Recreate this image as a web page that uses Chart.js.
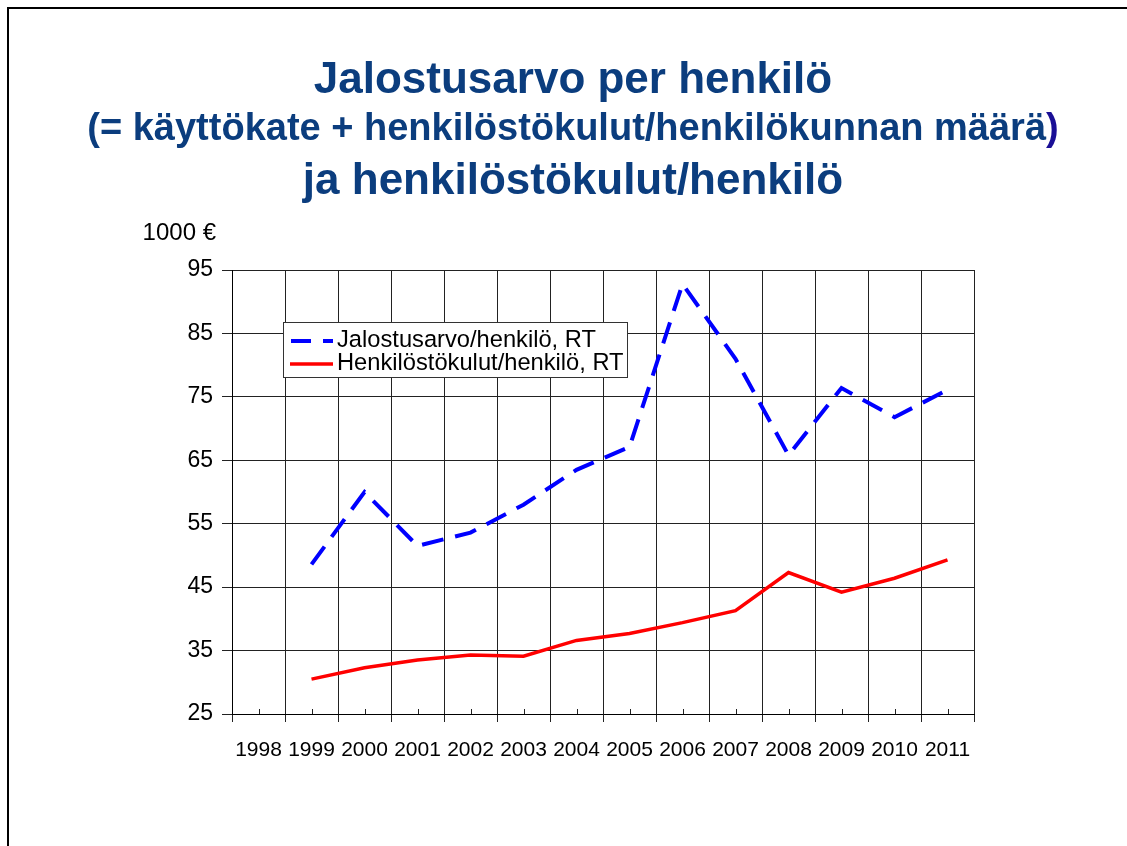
<!DOCTYPE html>
<html>
<head>
<meta charset="utf-8">
<script src="https://cdn.jsdelivr.net/npm/chart.js@4/dist/chart.umd.min.js"></script>
<style>
  html, body { margin: 0; padding: 0; background: #fff; }
  #page { position: relative; width: 1127px; height: 846px; overflow: hidden; background: #fff;
          font-family: "Liberation Sans", Arial, sans-serif; }
  #frame { position: absolute; left: 7px; top: 7px; width: 1200px; height: 900px;
           border-top: 2px solid #000; border-left: 2px solid #000; }
  .t { position: absolute; left: 0; width: 1146px; text-align: center; font-weight: bold;
       color: #0b3d7e; white-space: nowrap; line-height: 1; }
  #t1 { top: 56px; font-size: 44px; }
  #t2 { top: 108px; font-size: 38px; }
  #t3 { top: 157px; font-size: 44px; }
  #t2 .p { color: #1a0f96; }
  #unit { position: absolute; right: 911px; top: 220px; font-size: 24px; color: #000; line-height: 1; white-space: nowrap; }
  #chart { position: absolute; left: 0; top: 0; }
  #legend { position: absolute; left: 283px; top: 322px; width: 343px; height: 54px;
            border: 1px solid #333; background: #fff; z-index: 2; }
  .row { position: absolute; left: 0; height: 26px; white-space: nowrap; font-size: 23.7px; line-height: 26px; color: #000; }
  .row svg { position: absolute; left: 5px; top: 0; }
  .row span { position: absolute; left: 53px; top: 0; }
</style>
</head>
<body>
<div id="page">
  <canvas id="chart" width="1127" height="846"></canvas>
  <div id="frame"></div>
  <div class="t" id="t1">Jalostusarvo per henkilö</div>
  <div class="t" id="t2">(= käyttökate + henkilöstökulut/henkilökunnan määrä<span class="p">)</span></div>
  <div class="t" id="t3">ja henkilöstökulut/henkilö</div>
  <div id="unit">1000 €</div>
  <div id="legend">
    <div class="row" style="top:3px">
      <svg width="46" height="26"><line x1="2" y1="15" x2="44" y2="15" stroke="#0000ff" stroke-width="4" stroke-dasharray="20 12"/></svg>
      <span id="lg1"></span>
    </div>
    <div class="row" style="top:26px">
      <svg width="46" height="26"><line x1="1" y1="15" x2="44" y2="15" stroke="#ff0000" stroke-width="3.5"/></svg>
      <span id="lg2"></span>
    </div>
  </div>
</div>
<script>
const categories = ['1998','1999','2000','2001','2002','2003','2004','2005','2006','2007','2008','2009','2010','2011'];
const valueAddedPerPerson = [null, 48.6, 60.0, 51.5, 53.6, 58.0, 63.5, 67.1, 92.8, 81.0, 65.8, 76.4, 71.8, 76.1];
const personnelCostsPerPerson = [null, 30.5, 32.3, 33.5, 34.3, 34.1, 36.6, 37.7, 39.4, 41.3, 47.3, 44.2, 46.4, 49.3];
const seriesNames = ['Jalostusarvo/henkilö, RT', 'Henkilöstökulut/henkilö, RT'];
const yMin = 25, yMax = 95, yStep = 10;

document.getElementById('lg1').textContent = seriesNames[0];
document.getElementById('lg2').textContent = seriesNames[1];

const FONT = '"Liberation Sans", Arial, sans-serif';

const minorTicks = {
  id: 'minorTicks',
  beforeDatasetsDraw(chart) {
    const x = chart.scales.x, ctx = chart.ctx;
    const b = chart.chartArea.bottom;
    ctx.save();
    ctx.strokeStyle = '#222';
    ctx.lineWidth = 1;
    ctx.beginPath();
    categories.forEach((c, i) => {
      const px = Math.round(x.getPixelForValue(i)) + 0.5;
      ctx.moveTo(px, b - 5);
      ctx.lineTo(px, b);
    });
    ctx.stroke();
    ctx.restore();
  }
};

new Chart(document.getElementById('chart'), {
  type: 'line',
  data: {
    labels: categories,
    datasets: [
      {
        label: seriesNames[0],
        data: valueAddedPerPerson,
        borderColor: '#0000ff',
        borderWidth: 4,
        borderDash: [22, 12],
        borderCapStyle: 'butt',
        pointRadius: 0,
        tension: 0,
        fill: false
      },
      {
        label: seriesNames[1],
        data: personnelCostsPerPerson,
        borderColor: '#ff0000',
        borderWidth: 3.5,
        pointRadius: 0,
        tension: 0,
        fill: false
      }
    ]
  },
  options: {
    responsive: false,
    animation: false,
    devicePixelRatio: 1,
    layout: { padding: { top: 270, right: 153, bottom: 72, left: 0 } },
    plugins: {
      legend: { display: false },
      title: { display: false },
      tooltip: { enabled: false }
    },
    scales: {
      x: {
        type: 'category',
        offset: true,
        grid: { offset: true, color: '#222', lineWidth: 1, tickLength: 8, drawTicks: true },
        border: { display: true, color: '#000', width: 1 },
        ticks: { color: '#000', font: { family: FONT, size: 21 }, maxRotation: 0, minRotation: 0, autoSkip: false, padding: 16 },
        afterFit(s) { s.height = 60; }
      },
      y: {
        min: yMin,
        max: yMax,
        grid: { color: '#222', lineWidth: 1, tickLength: 10, drawTicks: true },
        border: { display: true, color: '#000', width: 1 },
        ticks: { stepSize: yStep, color: '#000', font: { family: FONT, size: 23 }, padding: 9 },
        afterFit(s) { s.width = 232; }
      }
    }
  },
  plugins: [minorTicks]
});
</script>
</body>
</html>
